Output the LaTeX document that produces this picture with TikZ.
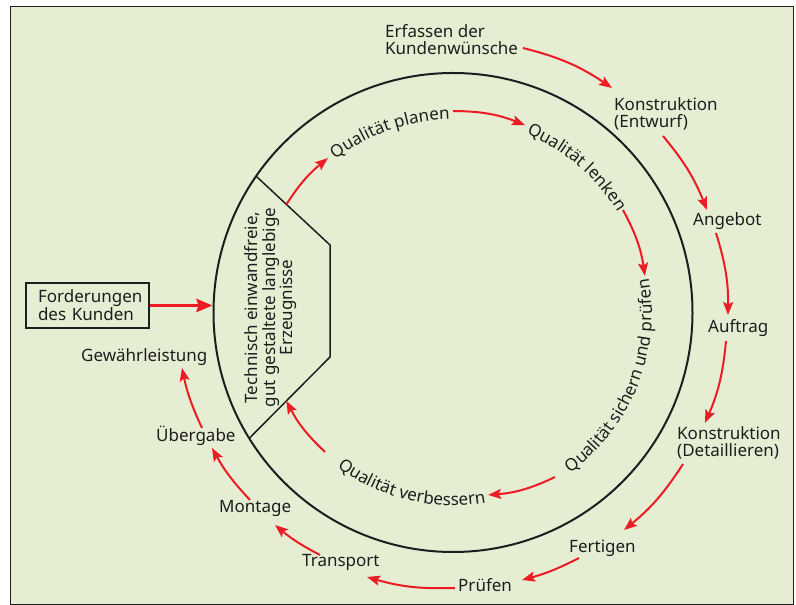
\documentclass[tikz,border=0pt]{standalone}
\usepackage{fontspec}
\setmainfont{Noto Sans}
\usetikzlibrary{arrows.meta,decorations.text,calc}
\definecolor{paper}{RGB}{229,238,211}
\definecolor{flowred}{RGB}{237,28,36}
\definecolor{ink}{RGB}{30,30,30}
\newcommand{\lblfont}{\fontsize{17}{17}\selectfont}

\begin{document}
\begin{tikzpicture}[x=1pt,y=1pt,
  lbl/.style={inner sep=0pt, text=ink, font=\lblfont, align=left},
  flow/.style={draw=flowred, line width=2pt, -{Stealth[length=13pt,width=10pt,inset=2.5pt]}},
  bigflow/.style={draw=flowred, line width=3.5pt, -{Stealth[length=16pt,width=13pt,inset=2pt]}},
  curvetext/.style={decorate, decoration={text along path, text align=center,
      text color=ink, text={|\lblfont|#1}}}
]
\useasboundingbox (0,0) rectangle (796,605);
\draw[ink, line width=1pt, fill=paper] (10.5,0.5) rectangle (793,598);

% quality circle
\coordinate (C) at (453,292.5);
\node[circle, draw=ink, line width=2pt, minimum size=479pt, inner sep=0pt] (ring) at (C) {};

% product segment
\coordinate (pTop) at ([shift={(145.3:239.5)}]C);
\coordinate (pUp)  at (330,360);
\coordinate (pLow) at (330,248);
\coordinate (pBot) at ([shift={(-148.3:239.5)}]C);
\draw[ink, line width=1.5pt] (pTop) -- (pUp) -- (pLow) -- (pBot);
\node[lbl, align=center, rotate=90, font=\fontsize{17}{17.5}\selectfont] (prod) at (271,297.5)
  {Technisch einwandfreie,\\gut gestaltete langlebige\\Erzeugnisse};

% inner cycle texts
\path[curvetext={Qualität planen}] ([shift={(140:193)}]C) arc[start angle=140, end angle=78.5, radius=193];
\path[curvetext={Qualität lenken}] ([shift={(80:193)}]C) arc[start angle=80, end angle=19, radius=193];
\path[curvetext={Qualität sichern und prüfen}] ([shift={(-65:199)}]C) arc[start angle=-65, end angle=21, radius=199];
\path[curvetext={Qualität verbessern}] ([shift={(-140:193)}]C) arc[start angle=-140, end angle=-67, radius=193];

\coordinate (q0) at ([shift={(129:198.7)}]C);
\coordinate (q1) at ([shift={(90:201.5)}]C);
\coordinate (q2) at ([shift={(69:200.8)}]C);
\coordinate (q3) at ([shift={(31.1:198.5)}]C);
\coordinate (q4) at ([shift={(10.8:195.4)}]C);
\coordinate (q5) at ([shift={(-58.2:193.6)}]C);
\coordinate (q6) at ([shift={(-79.1:185.8)}]C);
\coordinate (q7) at ([shift={(-132.5:189.3)}]C);

\draw[flow] ($(pTop)!0.41!(pUp)$) to[bend left=9] (q0);
\draw[flow] (q1) to[bend left=10.5] (q2);
\draw[flow] (q3) to[bend left=10] (q4);
\draw[flow] (q5) to[bend left=10.5] (q6);
\draw[flow] (q7) to[bend left=9.5] ($(pLow)!0.54!(pBot)$);

% customer requirements
\node[draw=ink, line width=1.5pt, inner xsep=12pt, inner ysep=0pt, text width=99pt,
  minimum height=45pt, align=left, font=\fontsize{17}{18}\selectfont, text=ink]
  (fk) at (87.5,299.5) {Forderungen\\des Kunden};
\draw[bigflow] (fk.east) -- (fk.east -| ring.west);

% outer order cycle
\node[lbl, anchor=north west] (erf)  at (385,580.5) {Erfassen der\\Kundenwünsche};
\node[lbl, anchor=north west] (kent) at (614,507.5) {Konstruktion\\(Entwurf)};
\node[lbl, anchor=base west]  (ang)  at (693,379) {Angebot};
\node[lbl, anchor=base west]  (auf)  at (708,272) {Auftrag};
\node[lbl, anchor=north west] (kdet) at (677,178.5) {Konstruktion\\(Detaillieren)};
\node[lbl, anchor=base west]  (fert) at (569,52) {Fertigen};
\node[lbl, anchor=base west]  (pruef) at (458,13) {Prüfen};
\node[lbl, anchor=base west]  (trans) at (302,38) {Transport};
\node[lbl, anchor=base west]  (mont) at (219,92) {Montage};
\node[lbl, anchor=base west]  (ueb)  at (156,163) {Übergabe};
\node[lbl, anchor=base west]  (gew)  at (81,243) {Gewährleistung};

\draw[flow] ([shift={(138,-23.5)}]erf.north west) to[bend left=10] ([shift={(-2,9.5)}]kent.north west);
\draw[flow] ([shift={(49,-38.5)}]kent.north west) to[bend left=9] ([shift={(14,16)}]ang.base west);
\draw[flow] ([shift={(23,-7)}]ang.base west) to[bend left=9] ([shift={(20,18)}]auf.base west);
\draw[flow] ([shift={(18,-8)}]auf.base west) to[bend left=9] ([shift={(28,3.5)}]kdet.north west);
\draw[flow] ([shift={(6,-37.5)}]kdet.north west) to[bend left=9] ([shift={(55,23)}]fert.base west);
\draw[flow] ([shift={(10,-5)}]fert.base west) to[bend left=6] ([shift={(64,12)}]pruef.base west);
\draw[flow] ([shift={(-3,4)}]pruef.base west) to[bend left=9] ([shift={(65,-10)}]trans.base west);
\draw[flow] ([shift={(18,12)}]trans.base west) to[bend left=6] ([shift={(56,-12)}]mont.base west);
\draw[flow] ([shift={(31,13)}]mont.base west) to[bend left=7] ([shift={(56,-6)}]ueb.base west);
\draw[flow] ([shift={(46,14)}]ueb.base west) to[bend left=6.5] ([shift={(101,-6)}]gew.base west);
\end{tikzpicture}
\end{document}
